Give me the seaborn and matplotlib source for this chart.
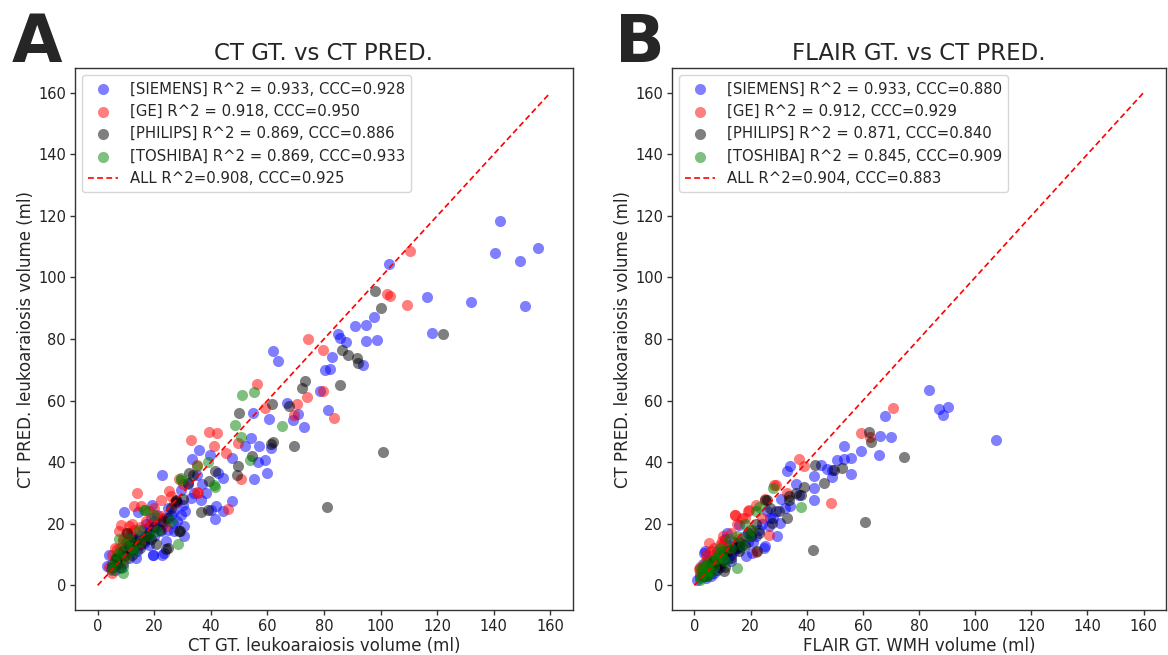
import matplotlib
matplotlib.use("Agg")
import matplotlib.pyplot as plt
import seaborn as sns
import pandas as pd

# (GT volume, predicted volume) per scanner vendor
ct_siemens = [(142.3, 118.3), (140.5, 108.0), (155.6, 109.5), (149.3, 105.2), (151.1, 90.7), (131.8, 92.1),
              (116.3, 93.5), (118.3, 81.8), (103.0, 104.4), (97.5, 87.2), (95.0, 84.5), (90.8, 84.1),
              (98.6, 79.7), (94.8, 79.4), (84.8, 81.5), (85.7, 80.4), (87.6, 79.0), (83.0, 74.3),
              (93.7, 71.6), (80.3, 69.9), (82.0, 70.4), (78.7, 63.1), (81.3, 57.0), (72.9, 51.5),
              (61.8, 76.2), (63.6, 73.0), (67.1, 59.3), (70.8, 55.8), (69.1, 53.7), (54.8, 55.9),
              (60.7, 53.9), (54.3, 48.0), (56.9, 45.1), (61.1, 44.6), (59.2, 40.7), (56.6, 40.2),
              (59.8, 36.4), (55.2, 34.4), (52.1, 45.1), (47.6, 41.3), (44.2, 34.8), (42.4, 36.5),
              (47.6, 27.3), (44.2, 24.0), (41.5, 21.4), (35.9, 43.8), (33.3, 41.1), (39.8, 42.4),
              (22.9, 36.0), (40.1, 24.6), (30.4, 19.2), (30.6, 16.0), (23.5, 10.6), (19.7, 10.0),
              (9.3, 23.7), (14.1, 23.7), (19.1, 26.2), (21.1, 23.0), (29.4, 31.1), (33.0, 28.4),
              (36.5, 27.8), (29.4, 23.0), (27.1, 17.6), (19.4, 10.0), (22.9, 10.0), (16.4, 13.8),
              (11.7, 11.1), (4.0, 10.0), (3.4, 6.2), (4.6, 5.2), (8.2, 5.7), (13.5, 9.0),
              (41.8, 25.7), (38.3, 30.0), (26.5, 20.3), (22.3, 17.6), (18.2, 16.5), (24.1, 14.3),
              (7.0, 7.9), (10.0, 12.0), (6.0, 8.0), (15.0, 16.0), (12.0, 14.0), (25.0, 25.0),
              (18.0, 19.0), (32.0, 33.0), (28.0, 27.0), (20.0, 21.0), (35.0, 36.0),
              (5, 7), (6, 5), (7, 9), (8, 10), (9, 7), (10, 14), (11, 9), (12, 16), (13, 12),
              (14, 11), (15, 13), (16, 18), (17, 15), (18, 13), (19, 22), (20, 16), (21, 19),
              (23, 20), (24, 22), (25, 18), (26, 23), (27, 24), (28, 21), (30, 26), (31, 24),
              (34, 30), (37, 33), (17, 20), (13, 15), (9, 11)]
ct_ge = [(110.3, 108.5), (102.1, 94.7), (103.3, 94.0), (109.3, 90.9), (74.4, 79.9), (79.5, 76.4),
         (79.8, 63.2), (73.9, 61.1), (83.6, 54.5), (70.6, 58.8), (69.4, 55.3), (56.4, 65.3),
         (59.0, 57.7), (39.5, 49.9), (42.1, 49.4), (33.0, 47.2), (41.0, 45.4), (45.4, 42.9),
         (49.5, 46.2), (50.7, 34.6), (35.0, 39.2), (28.8, 34.6), (25.3, 30.8), (22.3, 27.7),
         (13.8, 29.9), (12.9, 25.9), (15.2, 25.9), (46.0, 24.8), (35.3, 30.0), (35.1, 30.2),
         (8.2, 19.7), (7.6, 17.6), (11.1, 19.2), (7.0, 11.7), (8.8, 14.3), (11.7, 17.1),
         (14.6, 13.3), (22.3, 22.4), (24.1, 19.2), (27.1, 26.8), (5.2, 4.1), (10.0, 10.0),
         (6.0, 12.0), (16.0, 15.0), (19.0, 20.0), (9.0, 8.0),
         (4, 6), (6, 9), (8, 12), (9, 15), (10, 17), (12, 20), (13, 18), (15, 19), (17, 21),
         (18, 24), (20, 25), (21, 22), (26, 29), (30, 33), (5, 10), (11, 14)]
ct_philips = [(98.1, 95.6), (100.0, 90.1), (122.1, 81.7), (86.5, 76.4), (88.4, 74.8), (91.5, 73.9),
              (92.1, 72.2), (85.6, 65.0), (73.2, 66.3), (72.2, 64.0), (101.0, 43.2), (49.9, 55.9),
              (61.5, 58.8), (67.6, 58.3), (61.1, 46.0), (62.0, 46.7), (69.4, 45.1), (80.9, 25.3),
              (54.4, 42.1), (49.5, 38.6), (49.2, 35.9), (41.4, 37.2), (39.5, 34.0), (32.4, 36.5),
              (38.9, 24.6), (36.5, 23.7), (27.7, 27.8), (29.1, 17.6), (24.2, 11.7), (33.6, 35.9),
              (31.8, 33.2), (24.7, 12.2), (20.6, 13.3), (10.5, 17.1), (12.3, 11.7), (16.4, 14.3),
              (6.4, 8.4), (9.3, 9.5), (27.7, 27.3), (28.8, 17.6), (14.0, 15.0), (18.0, 17.0),
              (8.0, 6.0), (20.0, 19.0), (11.0, 13.0), (23.0, 21.0),
              (5, 6), (7, 7), (9, 11), (12, 10), (13, 14), (15, 12), (17, 16), (19, 15),
              (22, 18), (25, 22), (26, 25), (30, 28), (7, 9)]
ct_toshiba = [(51.1, 61.7), (55.2, 62.8), (48.6, 52.1), (65.2, 51.9), (50.7, 48.3), (53.7, 40.8),
              (38.9, 40.2), (35.1, 38.8), (41.5, 32.1), (29.4, 34.9), (28.3, 13.3), (16.7, 24.6),
              (29.4, 34.3), (41.3, 32.7), (16.4, 24.6), (14.6, 18.1), (25.9, 20.8), (7.6, 14.9),
              (9.9, 9.0), (5.2, 6.2), (8.8, 4.1), (21.1, 17.6), (12.0, 12.0), (7.0, 10.0),
              (6, 8), (8, 11), (10, 13), (11, 15), (13, 11), (15, 14), (18, 16), (9, 6), (5, 5), (20, 23)]

fl_siemens = [(83.7, 63.3), (87.3, 57.2), (90.2, 58.0), (88.6, 55.4), (107.6, 47.1), (68.0, 55.1),
              (66.0, 48.6), (70.0, 48.1), (65.8, 42.2), (59.2, 43.5), (55.8, 41.3), (53.2, 41.0),
              (50.9, 40.6), (53.3, 45.3), (55.8, 36.1), (49.1, 37.5), (47.3, 37.8), (49.1, 35.2),
              (42.5, 35.4), (42.5, 27.8), (42.5, 31.6), (34.2, 38.8), (33.0, 37.0), (37.2, 29.4),
              (34.2, 25.7), (29.5, 16.0), (24.7, 12.2), (20.6, 10.6), (11.7, 17.1), (26.5, 19.2),
              (30.6, 20.3), (3.3, 10.6), (1.0, 1.9), (15.8, 19.7), (32.4, 25.1), (25.3, 12.7),
              (18.2, 9.5), (3.9, 11.1), (2.7, 5.2), (5.7, 3.6), (8.0, 6.0), (12.0, 9.0),
              (16.0, 12.0), (22.0, 16.0), (19.0, 14.0), (28.0, 22.0), (36.0, 33.0), (45.0, 39.0),
              (7.0, 4.0), (14.0, 11.0), (4.0, 2.5), (10.0, 8.0), (26.0, 24.0), (31.0, 28.0),
              (2, 3), (3, 4), (3, 7), (4, 5), (5, 8), (5, 6), (6, 7), (6, 5), (7, 9), (8, 8),
              (9, 10), (9, 6), (10, 11), (11, 9), (12, 13), (13, 10), (14, 14), (15, 12),
              (17, 13), (18, 16), (20, 17), (21, 14), (23, 18), (24, 20), (27, 22), (29, 24),
              (6, 3), (8, 11), (11, 15), (13, 8)]
fl_ge = [(70.9, 57.6), (59.2, 49.4), (62.7, 48.3), (48.7, 26.8), (37.2, 41.0), (39.2, 38.8),
         (29.1, 32.6), (19.4, 24.4), (14.6, 22.7), (17.0, 21.9), (5.1, 13.8), (10.4, 13.8),
         (26.5, 16.5), (22.1, 10.8), (28.3, 32.7), (14.4, 23.0), (19.1, 24.0), (9.9, 14.3),
         (1.5, 5.2), (4.0, 8.0), (7.0, 10.0), (12.0, 12.0), (3.0, 3.0), (16.0, 15.0),
         (24.0, 22.0), (8.0, 7.0), (20.0, 18.0), (33.0, 30.0), (2.0, 6.0),
         (2, 4), (3, 6), (4, 10), (5, 5), (6, 11), (6, 8), (7, 12), (8, 9), (9, 13), (10, 16),
         (11, 11), (13, 17), (15, 20), (18, 22), (22, 26), (25, 28)]
fl_philips = [(62.1, 49.9), (63.0, 46.7), (74.5, 41.8), (60.6, 20.7), (42.3, 11.6), (52.6, 38.1),
              (49.6, 37.5), (43.1, 39.0), (46.3, 33.2), (39.2, 32.1), (37.8, 29.2), (33.6, 28.9),
              (25.7, 27.7), (33.0, 21.9), (27.7, 20.1), (22.3, 11.1), (15.8, 11.1), (10.4, 4.6),
              (25.3, 27.8), (33.6, 27.8), (15.8, 12.7), (6.3, 7.3), (8.0, 5.0), (13.0, 9.0),
              (18.0, 13.0), (20.0, 16.0), (4.0, 3.0), (30.0, 24.0), (36.0, 30.0), (23.0, 17.0),
              (3, 3), (5, 4), (6, 6), (7, 8), (9, 7), (10, 10), (12, 11), (14, 12), (16, 14),
              (19, 17), (22, 20), (27, 25), (11, 6)]
fl_toshiba = [(27.9, 31.6), (23.1, 25.5), (38.1, 25.5), (19.4, 16.0), (15.0, 5.6), (8.7, 10.6),
              (2.1, 5.2), (20.6, 18.1), (7.5, 8.4), (3.9, 4.6), (12.2, 14.9), (2.1, 1.9),
              (5.0, 6.0), (10.0, 9.0), (17.0, 13.0), (4.0, 3.0), (6.0, 4.5),
              (2, 2.5), (3, 4), (3, 6), (4, 7), (5, 3.5), (6, 8), (7, 6), (8, 9), (9, 12),
              (10, 11), (11, 8), (13, 12), (15, 16), (18, 20), (22, 24)]

vendors = ["SIEMENS", "GE", "PHILIPS", "TOSHIBA"]
colors = ["blue", "red", "black", "green"]

ct_r2 = ["0.933", "0.918", "0.869", "0.869"]
ct_ccc = ["0.928", "0.950", "0.886", "0.933"]
ct_all = ("0.908", "0.925")
fl_r2 = ["0.933", "0.912", "0.871", "0.845"]
fl_ccc = ["0.880", "0.929", "0.840", "0.909"]
fl_all = ("0.904", "0.883")

identity = [0, 160]
ticks = [0, 20, 40, 60, 80, 100, 120, 140, 160]

panels = [
    ("A", "CT GT. vs CT PRED.", "CT GT. leukoaraiosis volume (ml)",
     [ct_siemens, ct_ge, ct_philips, ct_toshiba], ct_r2, ct_ccc, ct_all),
    ("B", "FLAIR GT. vs CT PRED.", "FLAIR GT. WMH volume (ml)",
     [fl_siemens, fl_ge, fl_philips, fl_toshiba], fl_r2, fl_ccc, fl_all),
]

sns.set_theme(style="ticks")
plt.rcParams["font.family"] = ["DejaVu Sans"]
plt.rcParams["axes.linewidth"] = 1.0
plt.rcParams["axes.edgecolor"] = "#333333"

fig = plt.figure(figsize=(11.68, 6.55), dpi=100)
axes = [
    fig.add_axes([75 / 1168, 45 / 655, 498 / 1168, 542 / 655]),
    fig.add_axes([672 / 1168, 45 / 655, 494 / 1168, 542 / 655]),
]
letter_x = [12 / 1168, 615 / 1168]

for i, (letter, title, xlabel, groups, r2, ccc, all_stats) in enumerate(panels):
    ax = axes[i]
    for vendor, color, pts, r, c in zip(vendors, colors, groups, r2, ccc):
        df = pd.DataFrame(pts, columns=["gt", "pred"])
        sns.scatterplot(
            data=df, x="gt", y="pred", ax=ax,
            color=color, alpha=0.5, s=64, linewidth=0,
            label=f"[{vendor}] R^2 = {r}, CCC={c}",
        )
    ax.plot(identity, identity, color="red", linestyle=(0, (3.5, 2)), linewidth=1.2,
            label=f"ALL R^2={all_stats[0]}, CCC={all_stats[1]}")

    ax.set_xticks(ticks)
    ax.set_yticks(ticks)
    ax.tick_params(labelsize=10.5, length=3.5, width=1, pad=3,
                   colors="#333333", labelcolor="#222222")
    ax.set_xlabel(xlabel, fontsize=12, labelpad=2)
    ax.set_ylabel("CT PRED. leukoaraiosis volume (ml)", fontsize=12, labelpad=2)
    ax.set_title(title, fontsize=16.5, pad=6)
    ax.legend(loc="upper left", fontsize=10.7)

    fig.text(letter_x[i], 0.905, letter, fontsize=47, fontweight="bold", ha="left", va="baseline")

fig.savefig("out.png", dpi=100)
